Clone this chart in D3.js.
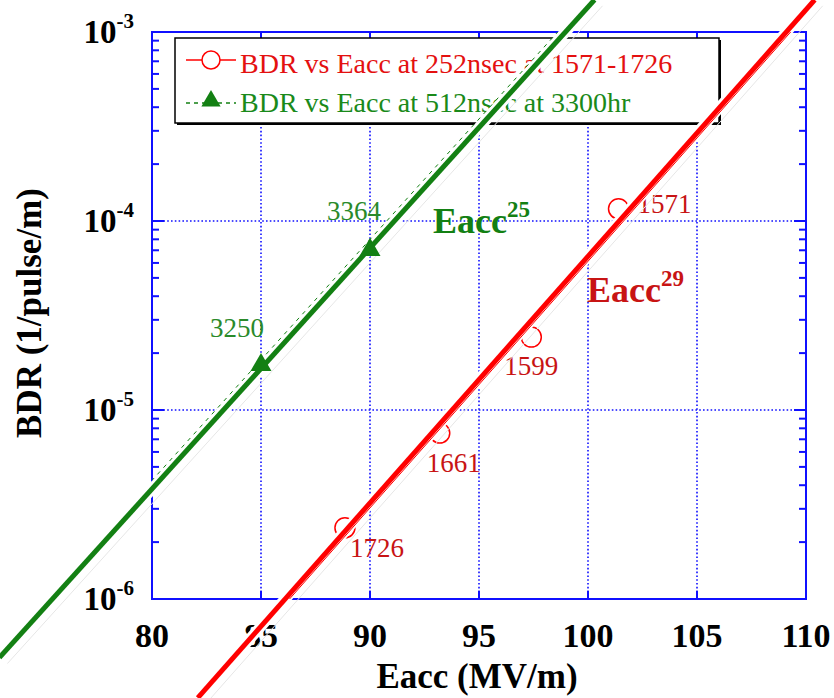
<!DOCTYPE html>
<html>
<head>
<meta charset="utf-8">
<script src="https://cdn.jsdelivr.net/npm/d3@7"></script>
<style>
  body { margin: 0; background: #fff; }
  text { font-family: "Liberation Serif", "Times New Roman", serif; }
</style>
</head>
<body>
<div id="graph"></div>
<script>
WIDTH = 834;
HEIGHT = 698;

// measured points (red: 252nsec, green: 512nsec)
var redE = [101.4, 97.4, 93.2, 88.85];
var redBDR = [1.16e-4, 2.43e-5, 7.55e-6, 2.38e-6];
var redLabels = ["1571", "1599", "1661", "1726"];

var greenE = [85, 90];
var greenBDR = [1.73e-5, 7.03e-5];
var greenLabels = ["3250", "3364"];

// hand drawn fit lines (end points)
var redFitE = [82.1, 110.4];
var redFitBDR = [3.0e-7, 1.48e-3];
var greenFitE = [73.0, 100.3];
var greenFitBDR = [4.9e-7, 1.48e-3];

var xTicks = [80, 85, 90, 95, 100, 105, 110];
var yTicks = [1e-6, 1e-5, 1e-4, 1e-3];
var yTickExp = ["-6", "-5", "-4", "-3"];

var legendText = ["BDR vs Eacc at 252nsec at 1571-1726", "BDR vs Eacc at 512nsec at 3300hr"];

var RED = "#ff0000", GREEN = "#138013", BLUE = "#1010ff";

var svg = d3.select("#graph").append("svg").attr("width", WIDTH).attr("height", HEIGHT);

var x = d3.scaleLinear().domain([80, 110]).range([152, 806]);
var y = d3.scaleLog().domain([1e-6, 1e-3]).range([599, 32]);

svg.append("clipPath").attr("id", "plot").append("rect")
  .attr("x", x(80)).attr("y", y(1e-3)).attr("width", x(110) - x(80)).attr("height", y(1e-6) - y(1e-3));

// grid
var grid = svg.append("g").attr("stroke", BLUE).attr("stroke-width", 1.6).attr("stroke-dasharray", "1.6,2.2");
grid.selectAll("line.gx").data(xTicks.slice(1, -1)).enter().append("line")
  .attr("x1", function(d) { return x(d); }).attr("x2", function(d) { return x(d); })
  .attr("y1", y(1e-3)).attr("y2", y(1e-6));
grid.selectAll("line.gy").data(yTicks.slice(1, -1)).enter().append("line")
  .attr("x1", x(80)).attr("x2", x(110))
  .attr("y1", function(d) { return y(d); }).attr("y2", function(d) { return y(d); });

// frame + ticks
var ax = svg.append("g").attr("stroke", BLUE).attr("stroke-width", 2).attr("fill", "none");
ax.append("rect").attr("x", x(80)).attr("y", y(1e-3)).attr("width", x(110) - x(80)).attr("height", y(1e-6) - y(1e-3));

var minor = [];
[1e-6, 1e-5, 1e-4].forEach(function(p) {
  for (var k = 2; k <= 9; k++) minor.push(p * k);
});
[x(80), x(110)].forEach(function(x0, i) {
  var dir = i == 0 ? 1 : -1;
  ax.selectAll(null).data(minor).enter().append("line")
    .attr("x1", x0).attr("x2", x0 + dir * 7)
    .attr("y1", function(d) { return y(d); }).attr("y2", function(d) { return y(d); });
  ax.selectAll(null).data(yTicks).enter().append("line")
    .attr("x1", x0).attr("x2", x0 + dir * 12)
    .attr("y1", function(d) { return y(d); }).attr("y2", function(d) { return y(d); });
});
[y(1e-6), y(1e-3)].forEach(function(y0, i) {
  var dir = i == 0 ? -1 : 1;
  ax.selectAll(null).data(xTicks).enter().append("line")
    .attr("x1", function(d) { return x(d); }).attr("x2", function(d) { return x(d); })
    .attr("y1", y0).attr("y2", y0 + dir * 8);
});

// tick labels
svg.append("g").selectAll("text").data(xTicks).enter().append("text")
  .attr("x", function(d) { return x(d); }).attr("y", 647)
  .attr("text-anchor", "middle").attr("font-size", 34).attr("font-weight", "bold")
  .text(function(d) { return d; });

var yl = svg.append("g").selectAll("text").data(yTicks).enter().append("text")
  .attr("x", 134).attr("y", function(d) { return y(d) + 11; })
  .attr("text-anchor", "end").attr("font-size", 33).attr("font-weight", "bold");
yl.append("tspan").text("10");
yl.append("tspan").attr("dy", -15).attr("font-size", 21).text(function(d, i) { return yTickExp[i]; });

// axis titles
svg.append("text").attr("x", 477).attr("y", 688).attr("text-anchor", "middle")
  .attr("font-size", 35).attr("font-weight", "bold").text("Eacc (MV/m)");
svg.append("text").attr("transform", "translate(41,313) rotate(-90)").attr("text-anchor", "middle")
  .attr("font-size", 35).attr("font-weight", "bold").text("BDR (1/pulse/m)");

// legend
var lg = svg.append("g");
lg.append("rect").attr("x", 177).attr("y", 40).attr("width", 544).attr("height", 85).attr("fill", "#000");
lg.append("rect").attr("x", 175).attr("y", 38).attr("width", 544).attr("height", 85)
  .attr("fill", "#fff").attr("stroke", "#000").attr("stroke-width", 1.5);
lg.append("line").attr("x1", 186).attr("x2", 236).attr("y1", 60).attr("y2", 60).attr("stroke", RED).attr("stroke-width", 1.3);
lg.append("circle").attr("cx", 211).attr("cy", 60).attr("r", 9).attr("fill", "#fff").attr("stroke", RED).attr("stroke-width", 1.5);
lg.append("line").attr("x1", 186).attr("x2", 236).attr("y1", 103).attr("y2", 103).attr("stroke", GREEN)
  .attr("stroke-width", 1.3).attr("stroke-dasharray", "4,4");
lg.append("path").attr("d", d3.symbol(d3.symbolTriangle, 160)()).attr("transform", "translate(211,101)").attr("fill", GREEN);
lg.selectAll("text").data(legendText).enter().append("text")
  .attr("x", 240).attr("y", function(d, i) { return 73 + i * 39; })
  .attr("font-size", 28).attr("fill", function(d, i) { return i == 0 ? "#e41010" : "#1a8a1a"; })
  .text(function(d) { return d; });

var line = d3.line().x(function(d) { return x(d[0]); }).y(function(d) { return y(d[1]); });

// red markers (under the thick line)
svg.append("g").selectAll("circle").data(d3.zip(redE, redBDR)).enter().append("circle")
  .attr("cx", function(d) { return x(d[0]); }).attr("cy", function(d) { return y(d[1]); })
  .attr("r", 10).attr("fill", "none").attr("stroke", RED).attr("stroke-width", 1.5);

// point labels
var redOff = [[19, 4], [-27, 38], [-13, 39], [5, 29]];
var greenOff = [[-51, -28], [-43, -30]];
svg.append("g").selectAll("text").data(redE).enter().append("text")
  .attr("x", function(d, i) { return x(d) + redOff[i][0]; })
  .attr("y", function(d, i) { return y(redBDR[i]) + redOff[i][1]; })
  .attr("font-size", 27).attr("fill", "#c81414").text(function(d, i) { return redLabels[i]; });
svg.append("g").selectAll("text").data(greenE).enter().append("text")
  .attr("x", function(d, i) { return x(d) + greenOff[i][0]; })
  .attr("y", function(d, i) { return y(greenBDR[i]) + greenOff[i][1]; })
  .attr("font-size", 27).attr("fill", "#2a8a2a").text(function(d, i) { return greenLabels[i]; });

// power law annotations
var a1 = svg.append("text").attr("x", 433).attr("y", 233).attr("font-size", 36).attr("font-weight", "bold").attr("fill", GREEN);
a1.append("tspan").text("Eacc");
a1.append("tspan").attr("dy", -16).attr("font-size", 23).text("25");
var a2 = svg.append("text").attr("x", 587).attr("y", 302).attr("font-size", 36).attr("font-weight", "bold").attr("fill", "#c81414");
a2.append("tspan").text("Eacc");
a2.append("tspan").attr("dy", -16).attr("font-size", 23).text("29");

// thick fit lines with white halo, thin original fit beside them
var fits = [
  { e: greenFitE, b: greenFitBDR, c: GREEN, dash: "4,5", shift: "translate(-5,-3)" },
  { e: redFitE, b: redFitBDR, c: RED, dash: null, shift: "translate(3.5,1)" }
];
fits.forEach(function(f) {
  var pts = d3.zip(f.e, f.b);
  svg.append("path").attr("d", line(pts)).attr("stroke", "#e6e6e6").attr("stroke-width", 1)
    .attr("transform", "translate(8,6)");
  svg.append("path").attr("d", line(pts)).attr("stroke", "#fff").attr("stroke-width", 11);
  svg.append("g").attr("clip-path", "url(#plot)").append("path").attr("d", line(pts))
    .attr("stroke", f.c).attr("stroke-width", 1).attr("stroke-dasharray", f.dash)
    .attr("transform", f.shift);
  svg.append("path").attr("d", line(pts)).attr("stroke", f.c).attr("stroke-width", 5);
});

// green markers sit on top
svg.append("g").selectAll("path").data(d3.zip(greenE, greenBDR)).enter().append("path")
  .attr("d", d3.symbol(d3.symbolTriangle, 190)())
  .attr("transform", function(d) { return "translate(" + x(d[0]) + "," + y(d[1]) + ")"; })
  .attr("fill", GREEN);
</script>
</body>
</html>
